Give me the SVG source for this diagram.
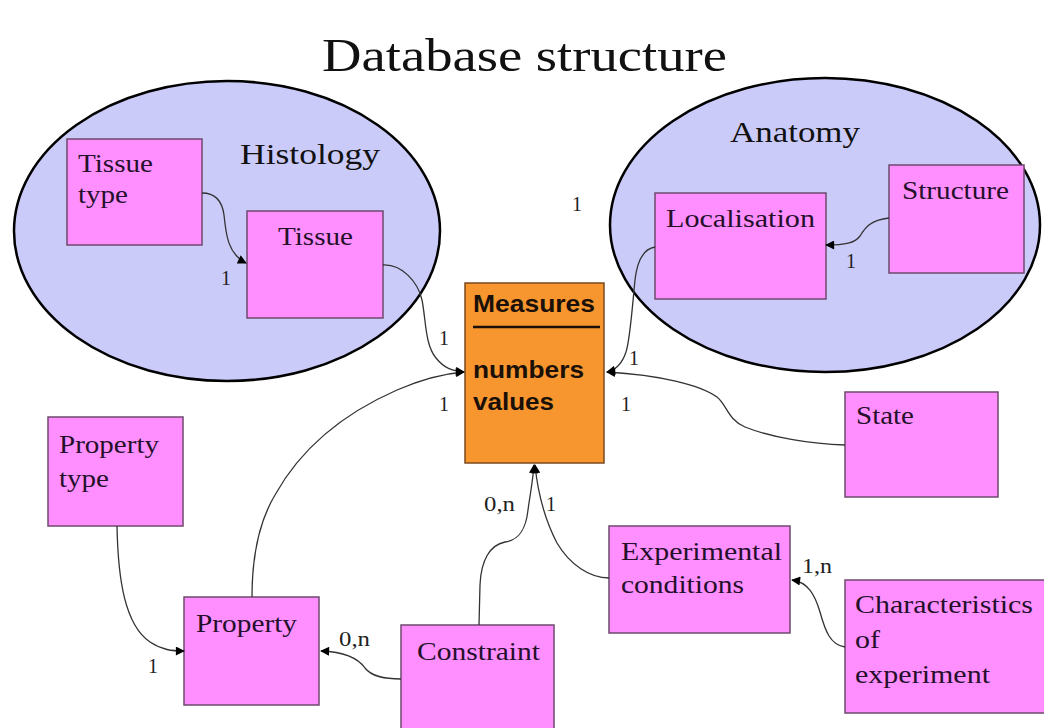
<svg xmlns="http://www.w3.org/2000/svg" width="1044" height="728" viewBox="0 0 1044 728">
  <style>
    .domain { fill: #CBCBFA; stroke: #000; stroke-width: 2.5; }
    .box { fill: #FF8FFF; stroke: #6E4A6E; stroke-width: 1.5; }
    .measure { fill: #F7952E; stroke: #7A4A1E; stroke-width: 1.5; }
    .lbl { font-family: "Liberation Serif", "Times New Roman", serif; font-size: 26px; fill: #24102A; }
    .dom { font-family: "Liberation Serif", "Times New Roman", serif; font-size: 30px; fill: #111; }
    .num { font-family: "Liberation Serif", "Times New Roman", serif; font-size: 20px; fill: #222; }
    .mtxt { font-family: "Liberation Sans", Arial, sans-serif; font-weight: bold; font-size: 24px; fill: #1A1008; }
    .link { fill: none; stroke: #333; stroke-width: 1.3; marker-end: url(#tip); }
  </style>
  <defs>
    <marker id="tip" viewBox="0 0 10 10" refX="9" refY="5" markerWidth="10" markerHeight="9" markerUnits="userSpaceOnUse" orient="auto">
      <path d="M0,0 L10,5 L0,10 z" fill="#000"/>
    </marker>
  </defs>

  <rect width="1044" height="728" fill="#fff"/>

  <text x="322" y="71" font-family="'Liberation Serif', 'Times New Roman', serif" font-size="46" fill="#111" textLength="405" lengthAdjust="spacingAndGlyphs">Database structure</text>

  <!-- domain ellipses -->
  <g id="histology">
    <ellipse class="domain" cx="227" cy="231" rx="213" ry="150"/>
    <text class="dom" x="240" y="164" textLength="140" lengthAdjust="spacingAndGlyphs">Histology</text>
  </g>
  <g id="anatomy">
    <ellipse class="domain" cx="825" cy="225" rx="215" ry="147"/>
    <text class="dom" x="730" y="142" textLength="130" lengthAdjust="spacingAndGlyphs">Anatomy</text>
  </g>

  <!-- entity boxes -->
  <g id="tissue-type">
    <rect class="box" x="67" y="139" width="135" height="106"/>
    <text class="lbl" x="78" y="172" textLength="75" lengthAdjust="spacingAndGlyphs">Tissue</text>
    <text class="lbl" x="78" y="203" textLength="50" lengthAdjust="spacingAndGlyphs">type</text>
  </g>
  <g id="tissue">
    <rect class="box" x="247" y="211" width="136" height="107"/>
    <text class="lbl" x="278" y="245" textLength="75" lengthAdjust="spacingAndGlyphs">Tissue</text>
  </g>
  <g id="localisation">
    <rect class="box" x="655" y="193" width="171" height="106"/>
    <text class="lbl" x="666" y="227" textLength="149" lengthAdjust="spacingAndGlyphs">Localisation</text>
  </g>
  <g id="structure">
    <rect class="box" x="889" y="165" width="135" height="108"/>
    <text class="lbl" x="902" y="199" textLength="107" lengthAdjust="spacingAndGlyphs">Structure</text>
  </g>
  <g id="measures">
    <rect class="measure" x="465" y="283" width="139" height="180"/>
    <text class="mtxt" x="473" y="312" textLength="122" lengthAdjust="spacingAndGlyphs">Measures</text>
    <line x1="473" y1="327" x2="600" y2="327" stroke="#1A1008" stroke-width="2.5"/>
    <text class="mtxt" x="473" y="378" textLength="111" lengthAdjust="spacingAndGlyphs">numbers</text>
    <text class="mtxt" x="473" y="410" textLength="81" lengthAdjust="spacingAndGlyphs">values</text>
  </g>
  <g id="state">
    <rect class="box" x="845" y="392" width="153" height="105"/>
    <text class="lbl" x="856" y="424" textLength="58" lengthAdjust="spacingAndGlyphs">State</text>
  </g>
  <g id="property-type">
    <rect class="box" x="48" y="417" width="135" height="109"/>
    <text class="lbl" x="59" y="453" textLength="100" lengthAdjust="spacingAndGlyphs">Property</text>
    <text class="lbl" x="59" y="487" textLength="50" lengthAdjust="spacingAndGlyphs">type</text>
  </g>
  <g id="property">
    <rect class="box" x="184" y="597" width="135" height="108"/>
    <text class="lbl" x="196" y="632" textLength="101" lengthAdjust="spacingAndGlyphs">Property</text>
  </g>
  <g id="constraint">
    <rect class="box" x="401" y="625" width="153" height="110"/>
    <text class="lbl" x="417" y="660" textLength="123" lengthAdjust="spacingAndGlyphs">Constraint</text>
  </g>
  <g id="experimental-conditions">
    <rect class="box" x="609" y="526" width="181" height="107"/>
    <text class="lbl" x="621" y="560" textLength="161" lengthAdjust="spacingAndGlyphs">Experimental</text>
    <text class="lbl" x="621" y="593" textLength="123" lengthAdjust="spacingAndGlyphs">conditions</text>
  </g>
  <g id="characteristics">
    <rect class="box" x="845" y="580" width="205" height="133"/>
    <text class="lbl" x="855" y="613" textLength="178" lengthAdjust="spacingAndGlyphs">Characteristics</text>
    <text class="lbl" x="855" y="648" textLength="25" lengthAdjust="spacingAndGlyphs">of</text>
    <text class="lbl" x="855" y="683" textLength="135" lengthAdjust="spacingAndGlyphs">experiment</text>
  </g>

  <!-- relationships -->
  <g id="connectors">
    <path class="link" d="M202,193 C215,193 222,200 224,215 C226,235 228,254 246,263"/>
    <path class="link" d="M383,265 C402,264 418,282 422,300 C426,320 425,345 436,358 C444,368 452,371 464,372"/>
    <path class="link" d="M655,247 C643,249 637,262 635,280 C632,310 630,340 626,352 C622,364 616,370 607,372"/>
    <path class="link" d="M845,445 C810,444 770,437 745,427 C728,420 727,405 717,397 C700,385 660,375 607,372"/>
    <path class="link" d="M252,597 C252,555 260,520 275,495 C300,450 340,415 397,390 C420,380 440,374 464,372"/>
    <path class="link" d="M117,526 C118,580 125,625 150,642 C162,650 172,651 184,651"/>
    <path class="link" d="M401,679 C385,679 372,677 365,668 C358,658 345,652 321,651"/>
    <path class="link" d="M479,625 L480,585 C481,560 490,545 505,542 C520,540 526,528 528,510 C530,495 533,480 534,465"/>
    <path class="link" d="M609,578 C590,578 570,565 557,543 C545,520 538,495 535,465"/>
    <path class="link" d="M845,647 C830,645 825,630 820,612 C815,595 808,582 792,580"/>
    <path class="link" d="M889,218 C870,220 865,228 860,236 C855,243 845,245 826,245"/>
  </g>

  <!-- cardinalities -->
  <g id="cardinalities">
    <text class="num" x="221" y="285">1</text>
    <text class="num" x="439" y="345">1</text>
    <text class="num" x="439" y="411">1</text>
    <text class="num" x="572" y="211">1</text>
    <text class="num" x="846" y="268">1</text>
    <text class="num" x="629" y="365">1</text>
    <text class="num" x="621" y="411">1</text>
    <text class="num" x="484" y="511" textLength="31" lengthAdjust="spacingAndGlyphs">0,n</text>
    <text class="num" x="546" y="511">1</text>
    <text class="num" x="802" y="573" textLength="30" lengthAdjust="spacingAndGlyphs">1,n</text>
    <text class="num" x="339" y="646" textLength="31" lengthAdjust="spacingAndGlyphs">0,n</text>
    <text class="num" x="148" y="673">1</text>
  </g>
</svg>
